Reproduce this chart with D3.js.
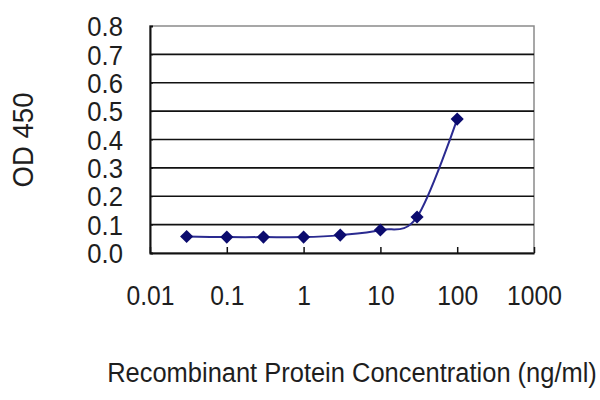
<!DOCTYPE html>
<html>
<head>
    <meta charset="utf-8">
    <title>OD 450 vs Recombinant Protein Concentration</title>
    <script src="https://cdnjs.cloudflare.com/ajax/libs/d3/7.8.5/d3.min.js"></script>
    <style>
        body { margin: 0; background: #fff; }
        text { font-family: "Liberation Sans", Arial, sans-serif; fill: #1e1e1e; }
    </style>
</head>
<body>
    <div id="chart"></div>
    <script>
        // concentrations (ng/ml) and measured OD 450
        const conc = [0.03, 0.1, 0.3, 1, 3, 10, 30, 100];
        const od = [0.058, 0.056, 0.056, 0.056, 0.063, 0.081, 0.127, 0.472];

        const xTicks = [0.01, 0.1, 1, 10, 100, 1000];
        const xTickLabels = ['0.01', '0.1', '1', '10', '100', '1000'];
        const yTicks = [0, 0.1, 0.2, 0.3, 0.4, 0.5, 0.6, 0.7, 0.8];
        const yTickLabels = ['0.0', '0.1', '0.2', '0.3', '0.4', '0.5', '0.6', '0.7', '0.8'];

        const xTitle = 'Recombinant Protein Concentration (ng/ml)';
        const yTitle = 'OD 450';

        const W = 600, H = 400;
        const margin = { top: 26, right: 66, bottom: 147, left: 150 };
        const width = W - margin.left - margin.right;
        const height = H - margin.top - margin.bottom;

        const svg = d3.select('#chart')
            .append('svg')
            .attr('width', W)
            .attr('height', H);

        const g = svg.append('g')
            .attr('transform', `translate(${margin.left},${margin.top})`);

        const x = d3.scaleLog().domain([0.01, 1000]).range([0, width]);
        const y = d3.scaleLinear().domain([0, 0.8]).range([height, 0]);

        // plot frame (top and right are grey)
        g.append('rect')
            .attr('x', 0).attr('y', 0)
            .attr('width', width).attr('height', height)
            .attr('fill', '#fff')
            .attr('stroke', '#8a8a8a')
            .attr('stroke-width', 1.5);

        // horizontal grid lines
        g.append('g')
            .selectAll('line')
            .data(yTicks.slice(1, -1))
            .enter()
            .append('line')
            .attr('x1', 0).attr('x2', width)
            .attr('y1', d => y(d)).attr('y2', d => y(d))
            .attr('stroke', '#111')
            .attr('stroke-width', 1.6);

        // y axis
        const yAxis = g.append('g')
            .call(d3.axisLeft(y)
                .tickValues(yTicks)
                .tickSize(-3)
                .tickFormat((d, i) => yTickLabels[i]));
        yAxis.select('.domain').attr('stroke', '#111').attr('stroke-width', 2);
        yAxis.selectAll('.tick line').attr('stroke', '#111');
        yAxis.selectAll('text')
            .attr('x', 0)
            .attr('dy', '0.36em')
            .attr('transform', 'translate(-27,0) scale(0.95,1)')
            .style('font-size', '27px')
            .attr('fill', '#1e1e1e');

        // x axis, ticks pointing inward
        const xAxis = g.append('g')
            .attr('transform', `translate(0,${height})`)
            .call(d3.axisBottom(x)
                .tickValues(xTicks)
                .tickSizeInner(-6)
                .tickSizeOuter(0)
                .tickFormat((d, i) => xTickLabels[i]));
        xAxis.select('.domain').attr('stroke', '#111').attr('stroke-width', 2);
        xAxis.selectAll('.tick line').attr('stroke', '#111').attr('stroke-width', 1.5);
        xAxis.selectAll('text')
            .attr('y', 52)
            .attr('dy', 0)
            .attr('transform', 'scale(0.88,1)')
            .style('font-size', '28px')
            .attr('fill', '#1e1e1e');

        // smoothed series line
        const pts = conc.map((c, i) => [c, od[i]]);
        g.append('path')
            .datum(pts)
            .attr('fill', 'none')
            .attr('stroke', '#2a2a90')
            .attr('stroke-width', 2)
            .attr('d', d3.line()
                .x(d => x(d[0]))
                .y(d => y(d[1]))
                .curve(d3.curveCatmullRom.alpha(0)));

        // diamond markers
        g.selectAll('.pt')
            .data(pts)
            .enter()
            .append('path')
            .attr('class', 'pt')
            .attr('transform', d => `translate(${x(d[0])},${y(d[1])})`)
            .attr('d', d3.symbol().type(d3.symbolDiamond2).size(110))
            .attr('fill', '#0b0b6e');

        // axis titles
        svg.append('text')
            .attr('transform', 'translate(352,382) scale(0.91,1)')
            .attr('text-anchor', 'middle')
            .style('font-size', '28px')
            .text(xTitle);

        svg.append('text')
            .attr('transform', 'translate(33,140) rotate(-90) scale(0.95,1)')
            .attr('text-anchor', 'middle')
            .style('font-size', '29px')
            .text(yTitle);
    </script>
</body>
</html>
